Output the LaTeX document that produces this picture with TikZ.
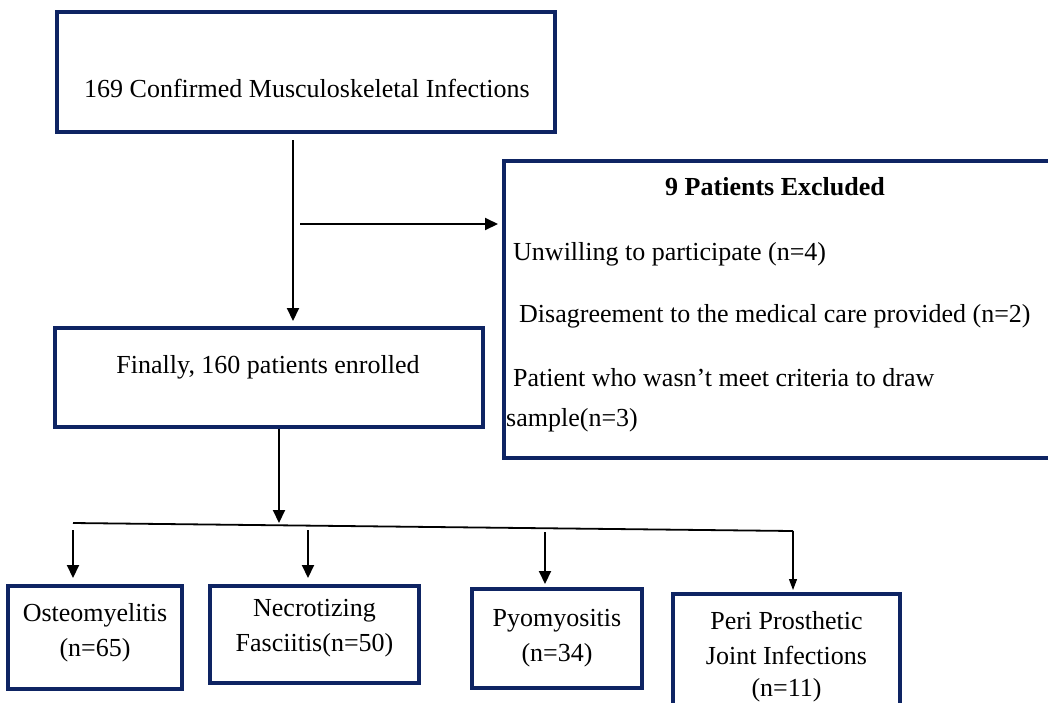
\documentclass[tikz,border=0pt]{standalone}
\usepackage{fontspec}
\setmainfont{Liberation Serif}
\usetikzlibrary{arrows.meta}
\definecolor{navy}{RGB}{14,36,99}
\begin{document}
\begin{tikzpicture}[x=1pt,y=-1pt,
  box/.style={draw=navy,line width=4pt,rectangle,inner sep=0pt},
  txt/.style={font=\fontsize{26}{35}\selectfont,inner sep=0pt,anchor=base},
  ltxt/.style={font=\fontsize{26}{35}\selectfont,inner sep=0pt,anchor=base west},
  arr/.style={draw=black,line width=2pt,-{Triangle[length=13pt,width=12pt]}},
  thinarr/.style={draw=black,line width=1.2pt,-{Triangle[length=11pt,width=8pt]}},
  conn/.style={draw=black,line width=1.8pt}]
\useasboundingbox (0,0) rectangle (1048,702);
\clip (0,0) rectangle (1048,702);
% boxes
\node[box,minimum width=498pt,minimum height=120pt] (b1) at (306,72) {};
\node[box,minimum width=428pt,minimum height=99pt] (b2) at (269,377.5) {};
\node[box,minimum width=556pt,minimum height=297pt] (b3) at (782,309.5) {};
\node[box,minimum width=174pt,minimum height=103pt] (c1) at (95,637.5) {};
\node[box,minimum width=209pt,minimum height=97pt] (c2) at (314.5,634.5) {};
\node[box,minimum width=170pt,minimum height=99pt] (c3) at (557,638.5) {};
\node[box,minimum width=227pt,minimum height=130pt] (c4) at (786.5,659) {};
% texts
\node[txt] (t1) at (307,97) {169 Confirmed Musculoskeletal Infections};
\node[txt] (t2) at (268,373) {Finally, 160 patients enrolled};
\node[txt,font=\fontsize{26}{35}\selectfont\bfseries] (t3) at (775,195) {9 Patients Excluded};
\node[ltxt] (t4) at (513,260) {Unwilling to participate (n=4)};
\node[ltxt] (t5) at (519,322) {Disagreement to the medical care provided (n=2)};
\node[ltxt] (t6) at (513,386) {Patient who wasn’t meet criteria to draw};
\node[ltxt] (t7) at (506,426) {sample(n=3)};
\node[txt] (u1a) at (95,621) {Osteomyelitis};
\node[txt] (u1b) at (95,656) {(n=65)};
\node[txt] (u2a) at (314.5,616) {Necrotizing};
\node[txt] (u2b) at (314.5,651) {Fasciitis(n=50)};
\node[txt] (u3a) at (557,626) {Pyomyositis};
\node[txt] (u3b) at (557,661) {(n=34)};
\node[txt] (u4a) at (786.5,629) {Peri Prosthetic};
\node[txt] (u4b) at (786.5,664) {Joint Infections};
\node[txt] (u4c) at (786.5,696) {(n=11)};
% connectors
\draw[arr,shorten <=6pt,shorten >=5pt] ([xshift=-13pt]b1.south) -- ([xshift=-13pt]b1.south |- b2.north);
\coordinate (split) at (300,224);
\draw[arr,shorten >=4pt] (split) -- (split -| b3.west);
\coordinate (hl) at (73,523);
\coordinate (hr) at (793,531);
\coordinate (hub) at (279,523);
\draw[arr] ([xshift=10pt]b2.south) -- (hub);
\draw[conn] (hl) -- (hr);
\coordinate (s1) at (73,530);
\coordinate (s2) at (308,530);
\coordinate (s3) at (545,532);
\draw[arr,shorten >=6pt] (s1) -- (s1 |- c1.north);
\draw[arr,shorten >=6pt] (s2) -- (s2 |- c2.north);
\draw[arr,shorten >=3pt] (s3) -- (s3 |- c3.north);
\draw[thinarr,shorten >=2pt] (hr) -- (hr |- c4.north);
\end{tikzpicture}
\end{document}
